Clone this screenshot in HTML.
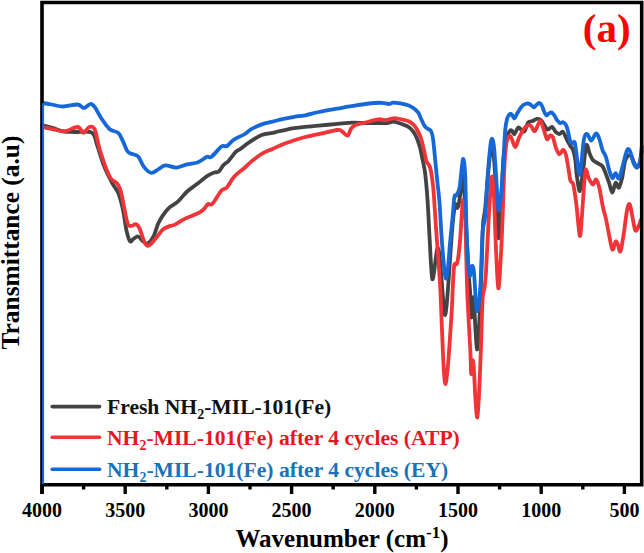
<!DOCTYPE html>
<html><head><meta charset="utf-8"><style>
html,body{margin:0;padding:0;background:#fff;}
svg{display:block;}
text{font-family:"Liberation Serif",serif;font-weight:bold;}
.tk{font-size:20px;fill:#000;}
</style></head><body>
<svg width="644" height="553" viewBox="0 0 644 553">
<rect x="0" y="0" width="644" height="553" fill="#fff"/>
<g fill="none" stroke-linejoin="round" stroke-linecap="round" stroke-width="3.8">
<path d="M42.5,125.3 C44.0,125.7 48.2,126.6 51.6,127.6 C55.0,128.6 59.2,130.7 63.1,131.4 C67.0,132.1 69.9,131.8 74.7,132.0 C79.5,132.2 88.3,130.6 92.0,132.8 C95.7,135.0 95.1,139.5 97.1,145.0 C99.1,150.5 101.5,159.6 104.1,166.0 C106.6,172.4 110.1,179.0 112.4,183.5 C114.8,188.0 116.5,188.6 118.2,192.9 C120.0,197.2 121.5,203.1 122.9,209.4 C124.3,215.7 125.3,225.3 126.5,230.6 C127.7,235.9 128.8,239.8 130.0,241.2 C131.2,242.6 132.1,239.6 133.5,238.8 C134.9,238.0 136.6,236.1 138.2,236.5 C139.8,236.9 141.3,240.0 142.9,241.2 C144.5,242.4 145.8,244.3 147.6,243.5 C149.4,242.7 151.7,239.8 153.5,236.5 C155.3,233.2 156.6,227.0 158.2,223.5 C159.8,220.0 161.1,217.9 162.9,215.3 C164.7,212.7 166.5,210.1 169.0,207.8 C171.5,205.5 175.1,204.1 178.1,201.4 C181.1,198.7 183.8,194.5 187.1,191.5 C190.4,188.5 194.7,185.9 198.0,183.3 C201.3,180.7 204.3,177.9 207.0,176.1 C209.7,174.3 212.2,173.2 214.2,172.5 C216.2,171.8 217.3,172.8 218.8,171.6 C220.3,170.4 221.7,167.1 223.3,165.3 C225.0,163.5 226.6,163.0 228.7,160.7 C230.8,158.4 234.1,153.6 236.0,151.7 C237.9,149.8 237.5,151.0 240.0,149.2 C242.5,147.4 247.3,143.4 250.9,141.1 C254.5,138.8 258.1,136.5 261.7,135.1 C265.3,133.7 269.9,133.5 272.6,132.9 C275.3,132.3 276.2,131.9 278.0,131.5 C279.8,131.1 280.8,130.9 283.5,130.3 C286.2,129.7 290.7,128.7 294.3,128.1 C297.9,127.5 301.1,127.2 305.2,126.8 C309.2,126.4 313.2,126.2 318.6,125.7 C324.0,125.2 331.7,124.4 337.3,123.9 C342.9,123.4 347.6,122.8 352.2,122.6 C356.8,122.4 360.8,122.9 365.2,123.0 C369.6,123.1 374.6,123.0 378.3,123.0 C382.0,123.0 385.1,123.2 387.6,123.0 C390.1,122.8 391.3,121.6 393.2,121.6 C395.1,121.6 396.6,122.3 398.8,123.0 C401.0,123.7 404.2,124.8 406.2,125.7 C408.1,126.6 409.0,127.0 410.5,128.5 C412.0,130.0 413.7,131.8 415.2,134.7 C416.7,137.5 418.2,141.3 419.5,145.6 C420.8,149.9 421.9,156.4 422.8,160.7 C423.7,165.0 424.3,167.2 424.9,171.6 C425.5,175.9 426.0,181.4 426.5,186.8 C427.0,192.2 427.3,196.5 427.8,204.1 C428.3,211.7 428.7,221.3 429.3,232.6 C429.9,243.9 430.9,263.9 431.5,271.7 C432.1,279.5 432.2,279.3 432.6,279.3 C433.0,279.3 433.4,276.6 434.1,271.7 C434.8,266.8 436.2,253.2 437.0,250.0 C437.8,246.8 438.4,247.8 439.1,252.2 C439.8,256.6 440.6,267.4 441.3,276.1 C442.0,284.8 442.9,297.8 443.5,304.3 C444.1,310.8 444.5,315.2 445.0,315.2 C445.5,315.2 446.1,310.8 446.7,304.3 C447.3,297.8 448.2,286.2 448.9,276.1 C449.6,266.0 450.4,253.3 451.1,243.5 C451.8,233.7 452.6,223.9 453.3,217.4 C454.0,210.9 454.7,205.9 455.4,204.3 C456.1,202.7 456.9,208.2 457.5,208.0 C458.1,207.8 458.4,206.3 459.0,203.0 C459.6,199.7 460.4,192.7 461.0,188.0 C461.6,183.3 462.1,173.8 462.7,175.0 C463.3,176.2 463.9,185.8 464.5,195.0 C465.1,204.2 465.6,217.5 466.3,230.0 C467.0,242.5 467.8,258.3 468.5,270.0 C469.2,281.7 470.2,292.1 470.7,300.0 C471.2,307.9 471.0,318.0 471.5,317.6 C472.0,317.2 472.8,295.3 473.5,297.4 C474.2,299.5 474.9,321.3 475.5,330.0 C476.1,338.7 476.5,348.6 477.0,349.4 C477.5,350.2 478.0,341.7 478.5,335.0 C479.0,328.3 479.4,319.8 479.9,309.0 C480.4,298.2 481.0,284.0 481.5,270.0 C482.0,256.0 482.4,235.0 483.0,225.0 C483.6,215.0 484.2,217.8 485.0,210.0 C485.8,202.2 486.9,188.0 487.8,178.0 C488.7,168.0 489.7,155.2 490.5,150.0 C491.3,144.8 491.8,144.5 492.5,147.0 C493.2,149.5 493.8,156.2 494.5,165.0 C495.2,173.8 495.8,187.8 496.5,200.0 C497.2,212.2 497.8,235.5 498.5,238.0 C499.2,240.5 499.7,228.0 500.5,215.0 C501.3,202.0 502.5,171.7 503.3,160.0 C504.1,148.3 504.8,149.1 505.5,145.0 C506.2,140.9 506.8,137.8 507.5,135.5 C508.2,133.2 509.1,131.8 509.8,131.0 C510.5,130.2 511.0,130.0 511.8,130.5 C512.6,131.0 513.5,134.5 514.5,134.0 C515.5,133.5 516.9,128.3 518.1,127.6 C519.3,126.9 520.4,129.4 521.5,130.0 C522.6,130.6 523.5,132.4 524.6,131.2 C525.7,129.9 526.9,124.2 528.2,122.5 C529.5,120.8 531.2,121.6 532.6,121.0 C534.0,120.4 535.5,119.0 536.9,118.9 C538.3,118.8 539.9,119.1 541.2,120.3 C542.5,121.5 543.8,124.5 544.9,126.1 C546.0,127.7 546.6,129.6 547.8,129.7 C549.0,129.8 550.8,126.4 552.1,126.8 C553.4,127.2 554.5,130.7 555.7,131.9 C556.9,133.1 558.1,134.1 559.3,134.1 C560.5,134.1 561.7,131.1 562.9,131.9 C564.1,132.7 565.4,136.8 566.6,139.1 C567.8,141.4 569.1,143.9 570.2,145.7 C571.3,147.5 572.2,147.6 573.1,150.0 C574.0,152.4 574.7,155.9 575.3,160.1 C575.9,164.3 576.0,169.8 576.7,175.0 C577.5,180.2 578.8,191.6 579.8,191.0 C580.8,190.4 581.9,179.0 583.0,171.4 C584.1,163.8 585.2,148.4 586.3,145.4 C587.4,142.4 588.5,151.1 589.6,153.5 C590.7,155.9 591.4,158.4 592.8,160.0 C594.1,161.6 596.1,162.2 597.7,163.3 C599.3,164.4 601.2,164.7 602.6,166.5 C604.0,168.3 604.8,171.3 605.9,174.0 C607.0,176.7 608.0,179.7 609.1,182.8 C610.2,185.9 611.3,192.6 612.4,192.6 C613.5,192.6 614.5,183.6 615.6,182.8 C616.7,182.0 617.8,188.5 618.9,187.7 C620.0,186.9 621.0,182.6 622.1,178.0 C623.2,173.4 624.0,163.8 625.4,160.0 C626.8,156.2 628.9,154.8 630.3,155.1 C631.7,155.4 632.5,159.6 633.6,161.7 C634.7,163.8 635.7,167.5 636.8,167.5 C637.9,167.5 639.2,164.3 640.0,161.7 C640.8,159.1 641.4,153.5 641.7,151.9" stroke="#434343"/>
<path d="M42.5,127.0 C44.5,127.4 50.8,128.9 54.5,129.6 C58.2,130.3 60.7,131.8 64.6,131.4 C68.4,131.0 74.5,126.8 77.6,127.0 C80.7,127.2 81.5,132.8 83.4,132.8 C85.3,132.8 87.3,127.6 89.2,127.0 C91.1,126.4 93.0,125.9 94.7,129.4 C96.4,132.9 97.4,141.5 99.4,148.2 C101.4,154.9 104.5,164.3 106.5,169.4 C108.5,174.5 109.4,176.5 111.2,178.8 C113.0,181.2 115.5,181.5 117.1,183.5 C118.7,185.5 119.4,186.7 120.6,190.6 C121.8,194.5 122.9,201.6 124.1,207.1 C125.3,212.6 126.4,220.4 127.6,223.5 C128.8,226.6 129.8,225.8 131.2,225.9 C132.6,226.0 134.5,223.8 135.9,224.2 C137.3,224.6 138.0,225.4 139.4,228.2 C140.8,231.0 142.7,238.2 144.1,241.2 C145.5,244.1 146.2,245.7 147.6,245.9 C149.0,246.1 150.6,244.2 152.4,242.4 C154.2,240.6 156.4,237.5 158.2,235.3 C159.9,233.1 160.9,231.0 162.9,229.4 C164.9,227.8 168.1,226.7 170.0,225.9 C171.9,225.2 172.2,226.0 174.5,224.9 C176.8,223.8 179.6,221.4 183.5,219.5 C187.4,217.6 194.7,214.8 198.0,213.2 C201.3,211.5 201.8,211.1 203.4,209.6 C205.1,208.1 206.4,205.1 207.9,204.1 C209.4,203.1 210.1,206.1 212.4,203.8 C214.7,201.6 219.1,193.3 221.5,190.6 C223.9,187.9 224.8,189.8 226.9,187.5 C229.0,185.2 231.1,180.0 234.1,176.7 C237.1,173.4 242.2,170.0 245.0,167.5 C247.8,165.0 248.1,164.2 250.9,161.9 C253.7,159.6 258.1,156.0 261.7,153.8 C265.3,151.6 269.0,150.5 272.6,148.9 C276.2,147.3 279.9,145.4 283.5,144.0 C287.1,142.6 290.7,141.5 294.3,140.3 C297.9,139.1 301.1,138.0 305.2,137.0 C309.2,136.0 313.2,135.3 318.6,134.1 C324.0,132.9 333.4,130.5 337.3,130.0 C341.2,129.5 340.2,130.4 341.9,131.3 C343.6,132.2 345.9,136.1 347.5,135.6 C349.1,135.1 349.8,130.3 351.2,128.5 C352.6,126.7 353.6,125.8 355.9,124.8 C358.2,123.8 362.1,123.4 365.2,122.6 C368.3,121.8 372.0,120.8 374.5,120.2 C377.0,119.6 378.2,119.2 380.1,119.2 C382.0,119.2 383.5,120.4 385.7,120.2 C387.9,120.0 390.7,118.5 393.2,118.3 C395.7,118.1 398.1,118.7 400.6,119.2 C403.1,119.7 405.9,120.2 408.1,121.1 C410.3,122.0 412.1,123.2 413.7,124.8 C415.3,126.4 416.3,128.2 417.5,130.5 C418.7,132.8 420.0,135.0 421.1,138.5 C422.2,142.0 423.4,147.7 424.3,151.5 C425.2,155.3 425.6,158.8 426.5,161.3 C427.4,163.8 428.9,164.0 429.8,166.7 C430.7,169.4 431.4,173.2 432.0,177.6 C432.6,181.9 433.1,184.7 433.7,192.8 C434.3,200.9 435.2,215.8 435.9,226.1 C436.6,236.3 437.3,244.2 438.0,254.3 C438.7,264.4 439.5,274.4 440.2,287.0 C440.9,299.6 441.4,316.2 442.0,330.0 C442.6,343.8 443.2,361.0 443.8,370.0 C444.4,379.0 444.9,384.2 445.5,384.2 C446.1,384.2 446.8,376.5 447.5,370.0 C448.2,363.5 448.8,355.0 449.5,345.0 C450.2,335.0 451.2,319.7 451.8,310.0 C452.4,300.3 452.4,294.5 452.8,287.0 C453.2,279.5 453.6,269.2 454.3,265.2 C455.0,261.2 456.3,266.6 457.2,263.0 C458.1,259.4 459.0,252.2 459.8,243.5 C460.6,234.8 461.5,218.2 462.0,210.9 C462.5,203.7 462.5,200.0 463.0,200.0 C463.5,200.0 464.7,201.8 465.2,210.9 C465.7,220.0 465.8,239.8 466.2,254.3 C466.6,268.8 466.8,281.9 467.5,297.8 C468.2,313.8 469.7,337.3 470.3,350.0 C470.9,362.7 470.9,372.2 471.2,374.0 C471.5,375.8 472.0,362.3 472.4,361.0 C472.8,359.7 473.2,359.5 473.7,366.0 C474.2,372.5 474.9,391.4 475.5,400.0 C476.1,408.6 476.7,418.2 477.3,417.4 C477.9,416.6 478.4,405.9 479.0,395.0 C479.6,384.1 480.3,364.8 480.8,352.3 C481.3,339.8 481.5,329.4 481.8,320.0 C482.1,310.6 482.4,301.3 482.8,296.0 C483.2,290.7 484.0,292.0 484.5,288.0 C485.0,284.0 485.5,280.0 486.0,272.0 C486.5,264.0 487.0,250.9 487.6,240.0 C488.2,229.1 488.7,217.1 489.4,206.7 C490.1,196.2 491.0,180.0 491.7,177.3 C492.4,174.6 493.0,178.4 493.7,190.4 C494.4,202.4 495.2,232.9 496.0,249.2 C496.8,265.5 497.5,287.3 498.3,288.4 C499.1,289.5 500.2,267.1 500.9,255.7 C501.6,244.3 501.9,235.1 502.5,220.0 C503.1,204.9 503.8,177.9 504.5,165.0 C505.2,152.1 505.7,147.6 506.5,142.8 C507.3,138.0 508.5,136.9 509.4,136.2 C510.2,135.5 510.6,136.6 511.6,138.4 C512.6,140.2 514.0,147.1 515.2,147.1 C516.4,147.1 517.5,141.3 518.8,138.4 C520.1,135.5 521.8,131.9 523.2,129.7 C524.7,127.5 526.2,126.0 527.5,125.4 C528.8,124.8 529.9,125.1 531.1,126.1 C532.3,127.1 533.5,131.6 534.7,131.2 C535.9,130.8 537.4,125.6 538.4,123.9 C539.4,122.2 539.7,120.3 540.5,121.0 C541.3,121.7 542.3,125.3 543.4,128.3 C544.5,131.3 545.9,137.9 547.0,139.1 C548.1,140.3 548.9,135.8 549.9,135.5 C550.9,135.2 551.8,135.1 552.8,137.0 C553.8,138.9 554.6,144.2 555.7,147.1 C556.8,150.0 558.1,153.8 559.3,154.3 C560.5,154.8 561.9,150.0 563.0,150.0 C564.1,150.0 564.8,150.9 565.8,154.3 C566.8,157.7 567.9,165.9 568.7,170.3 C569.5,174.8 569.7,178.6 570.5,181.0 C571.3,183.4 572.3,180.4 573.3,184.5 C574.3,188.6 575.4,197.0 576.5,205.6 C577.6,214.2 578.9,234.5 579.8,235.9 C580.7,237.3 581.2,224.6 582.1,213.8 C583.0,203.1 584.2,177.4 585.3,171.4 C586.4,165.4 587.4,175.8 588.6,178.0 C589.9,180.2 591.5,184.2 592.8,184.5 C594.0,184.8 595.0,179.1 596.1,179.6 C597.2,180.1 598.2,183.4 599.3,187.7 C600.4,192.0 601.5,200.4 602.6,205.6 C603.7,210.8 604.8,213.8 605.9,218.7 C607.0,223.6 608.0,229.8 609.1,235.0 C610.2,240.2 611.3,248.5 612.4,249.6 C613.5,250.7 614.7,242.3 615.6,241.5 C616.5,240.7 617.1,243.1 617.9,244.7 C618.7,246.3 619.5,253.1 620.5,251.2 C621.5,249.3 622.7,240.1 623.8,233.3 C624.9,226.5 626.0,215.4 627.0,210.5 C628.0,205.6 628.8,203.4 629.6,204.0 C630.4,204.6 631.0,209.5 631.9,213.8 C632.8,218.2 634.1,227.9 635.2,230.1 C636.3,232.3 637.5,228.4 638.4,226.8 C639.3,225.2 640.3,221.4 640.7,220.3" stroke="#f03437"/>
<path d="M42.5,103.0 C44.0,103.2 48.2,103.9 51.6,104.5 C55.0,105.1 58.8,106.5 63.1,106.5 C67.4,106.5 74.1,104.2 77.6,104.5 C81.1,104.8 81.8,108.1 84.0,108.0 C86.2,107.9 88.8,104.0 90.6,103.9 C92.4,103.8 93.3,105.1 95.0,107.4 C96.7,109.7 98.4,113.9 100.8,117.5 C103.2,121.1 106.5,126.4 109.4,129.0 C112.3,131.6 116.0,130.9 118.2,132.9 C120.5,134.9 121.3,138.1 122.9,141.2 C124.5,144.3 126.0,149.3 127.6,151.5 C129.2,153.7 130.6,153.3 132.4,154.1 C134.2,154.9 136.2,154.3 138.2,156.5 C140.1,158.7 141.9,164.4 144.1,167.1 C146.3,169.8 148.8,172.5 151.2,172.9 C153.5,173.3 155.8,170.7 158.2,169.4 C160.6,168.1 162.4,165.6 165.4,165.3 C168.4,165.0 172.7,167.8 176.3,167.6 C179.9,167.4 183.5,165.3 187.1,164.4 C190.7,163.5 194.7,163.5 198.0,162.2 C201.3,160.9 204.8,157.7 207.0,156.8 C209.2,155.9 209.1,158.5 211.5,156.8 C213.9,155.1 218.9,148.3 221.5,146.5 C224.1,144.7 224.8,147.2 226.9,146.0 C229.0,144.8 231.1,141.5 234.1,139.5 C237.1,137.5 242.2,135.7 245.0,134.0 C247.8,132.3 248.1,130.9 250.9,129.3 C253.7,127.7 258.1,125.7 261.7,124.4 C265.3,123.1 269.0,122.5 272.6,121.6 C276.2,120.7 279.9,119.7 283.5,118.9 C287.1,118.1 290.7,117.4 294.3,116.8 C297.9,116.2 301.1,116.1 305.2,115.3 C309.2,114.5 313.2,113.1 318.6,112.0 C324.0,110.9 331.1,109.7 337.3,108.6 C343.5,107.5 349.7,106.3 355.9,105.4 C362.1,104.5 370.1,103.4 374.5,103.0 C378.9,102.6 379.5,102.7 382.0,102.9 C384.5,103.1 387.5,104.0 389.4,104.0 C391.3,104.0 391.3,102.7 393.2,102.6 C395.1,102.5 398.1,103.0 400.6,103.4 C403.1,103.9 405.9,104.5 408.1,105.3 C410.3,106.1 412.0,107.0 413.7,108.2 C415.4,109.4 417.2,111.2 418.3,112.7 C419.4,114.2 419.5,115.4 420.5,117.5 C421.5,119.6 423.1,123.5 424.3,125.4 C425.5,127.3 426.5,127.8 427.6,128.7 C428.7,129.6 430.0,129.3 430.9,130.9 C431.8,132.5 432.3,133.6 433.0,138.5 C433.7,143.4 434.5,152.9 435.2,160.2 C435.9,167.4 436.7,174.8 437.4,182.0 C438.1,189.2 439.0,195.3 439.6,203.7 C440.2,212.1 440.7,223.1 441.3,232.6 C441.9,242.1 442.8,253.3 443.5,260.9 C444.2,268.5 445.0,276.9 445.7,278.3 C446.4,279.8 447.1,275.4 447.8,269.6 C448.5,263.8 449.2,252.1 450.0,243.5 C450.8,234.9 451.8,225.8 452.5,218.0 C453.2,210.2 453.8,200.5 454.4,196.8 C455.0,193.1 455.4,197.1 456.3,195.6 C457.2,194.1 458.6,192.3 459.5,188.0 C460.4,183.7 460.9,174.8 461.5,170.0 C462.1,165.2 462.7,158.1 463.3,158.9 C463.9,159.7 464.7,164.5 465.2,175.0 C465.7,185.5 465.9,208.5 466.3,221.7 C466.7,234.9 467.1,245.2 467.6,254.3 C468.2,263.4 468.9,274.1 469.6,276.1 C470.3,278.1 471.0,267.0 471.7,266.3 C472.4,265.6 473.2,265.4 473.9,271.7 C474.6,278.0 475.5,297.9 476.1,304.3 C476.8,310.7 477.1,312.7 477.8,309.8 C478.5,306.9 479.6,299.9 480.4,287.0 C481.2,274.1 481.8,244.3 482.6,232.6 C483.4,220.8 484.3,226.3 485.2,216.5 C486.1,206.7 486.8,186.5 487.8,174.0 C488.8,161.5 490.0,146.2 491.0,141.3 C492.0,136.4 492.9,139.2 493.7,144.6 C494.5,150.0 495.2,163.1 496.0,174.0 C496.8,184.9 497.7,207.3 498.6,210.0 C499.5,212.7 500.7,198.7 501.5,190.4 C502.3,182.1 502.9,169.9 503.5,160.0 C504.1,150.1 504.5,138.2 505.1,131.2 C505.7,124.2 506.4,121.1 507.2,118.2 C508.0,115.3 509.2,114.3 510.1,113.8 C511.0,113.3 511.6,114.6 512.3,115.3 C513.0,116.0 513.6,118.6 514.5,118.2 C515.4,117.8 516.2,115.0 517.4,113.1 C518.6,111.2 520.3,108.2 521.7,106.6 C523.1,105.0 524.7,104.1 526.0,103.7 C527.3,103.3 528.4,103.4 529.7,104.0 C531.0,104.6 532.9,107.1 534.0,107.3 C535.1,107.5 535.4,105.8 536.2,105.1 C537.1,104.4 538.1,102.9 539.1,103.0 C540.1,103.1 541.2,104.5 542.0,105.9 C542.8,107.3 543.4,110.0 544.1,111.6 C544.8,113.2 545.6,114.9 546.3,115.3 C547.0,115.7 547.6,114.3 548.5,113.8 C549.4,113.3 550.4,112.2 551.4,112.4 C552.4,112.7 553.3,114.0 554.3,115.3 C555.3,116.6 556.2,119.0 557.2,120.3 C558.2,121.6 559.1,122.9 560.1,123.2 C561.1,123.5 562.0,122.0 563.0,122.2 C564.0,122.5 565.0,123.2 565.8,124.7 C566.6,126.2 567.3,128.4 568.0,131.2 C568.7,134.0 569.5,139.2 570.2,141.3 C570.9,143.4 571.7,143.4 572.4,143.5 C573.1,143.6 573.9,140.9 574.5,142.0 C575.1,143.1 575.4,145.8 576.0,150.0 C576.6,154.2 577.5,163.3 578.1,167.4 C578.7,171.5 579.2,175.4 579.8,174.7 C580.3,174.0 580.7,169.3 581.4,163.3 C582.1,157.3 583.0,143.8 584.0,138.9 C585.0,134.0 586.1,133.7 587.3,134.0 C588.5,134.3 589.7,140.6 591.2,140.5 C592.7,140.4 594.8,133.6 596.1,133.3 C597.5,133.0 598.2,136.1 599.3,138.9 C600.4,141.7 601.5,147.3 602.6,150.3 C603.7,153.3 604.8,153.6 605.9,156.8 C607.0,160.1 608.0,166.3 609.1,169.8 C610.2,173.3 611.3,177.4 612.4,178.0 C613.5,178.6 614.5,173.0 615.6,173.1 C616.7,173.2 617.8,179.4 618.9,178.6 C620.0,177.8 620.8,172.9 622.1,168.2 C623.5,163.5 625.6,153.0 627.0,150.3 C628.4,147.6 629.2,149.7 630.3,151.9 C631.4,154.1 632.5,160.7 633.6,163.3 C634.7,165.9 635.7,167.8 636.8,167.5 C637.9,167.2 639.2,165.1 640.0,161.7 C640.8,158.3 641.4,149.4 641.7,147.0" stroke="#1668d8"/>
</g>
<path d="M42,494 L42,2.5 L641.7,2.5 L641.7,484.7 L42,484.7" fill="none" stroke="#000" stroke-width="3.6" stroke-linejoin="miter"/>
<line x1="43.1" y1="103" x2="43.1" y2="485" stroke="#1668d8" stroke-width="2"/>
<line x1="42.0" y1="484" x2="42.0" y2="494" stroke="#000" stroke-width="3.4"/><text x="42.0" y="517" text-anchor="middle" class="tk">4000</text><line x1="125.2" y1="484" x2="125.2" y2="494" stroke="#000" stroke-width="3.4"/><text x="125.2" y="517" text-anchor="middle" class="tk">3500</text><line x1="208.4" y1="484" x2="208.4" y2="494" stroke="#000" stroke-width="3.4"/><text x="208.4" y="517" text-anchor="middle" class="tk">3000</text><line x1="291.6" y1="484" x2="291.6" y2="494" stroke="#000" stroke-width="3.4"/><text x="291.6" y="517" text-anchor="middle" class="tk">2500</text><line x1="374.8" y1="484" x2="374.8" y2="494" stroke="#000" stroke-width="3.4"/><text x="374.8" y="517" text-anchor="middle" class="tk">2000</text><line x1="458.0" y1="484" x2="458.0" y2="494" stroke="#000" stroke-width="3.4"/><text x="458.0" y="517" text-anchor="middle" class="tk">1500</text><line x1="541.2" y1="484" x2="541.2" y2="494" stroke="#000" stroke-width="3.4"/><text x="541.2" y="517" text-anchor="middle" class="tk">1000</text><line x1="624.4" y1="484" x2="624.4" y2="494" stroke="#000" stroke-width="3.4"/><text x="624.4" y="517" text-anchor="middle" class="tk">500</text><line x1="83.6" y1="484" x2="83.6" y2="489.5" stroke="#000" stroke-width="3.4"/><line x1="166.8" y1="484" x2="166.8" y2="489.5" stroke="#000" stroke-width="3.4"/><line x1="250.0" y1="484" x2="250.0" y2="489.5" stroke="#000" stroke-width="3.4"/><line x1="333.2" y1="484" x2="333.2" y2="489.5" stroke="#000" stroke-width="3.4"/><line x1="416.4" y1="484" x2="416.4" y2="489.5" stroke="#000" stroke-width="3.4"/><line x1="499.6" y1="484" x2="499.6" y2="489.5" stroke="#000" stroke-width="3.4"/><line x1="582.8" y1="484" x2="582.8" y2="489.5" stroke="#000" stroke-width="3.4"/>
<text x="630.6" y="42.4" text-anchor="end" style="font-size:41px;fill:#fe0000;">(a)</text>
<g stroke-width="3.6" stroke-linecap="round">
<line x1="52.2" y1="406.6" x2="99.6" y2="406.6" stroke="#434343"/>
<line x1="52.2" y1="437.2" x2="99.6" y2="437.2" stroke="#f03437"/>
<line x1="52.2" y1="469.2" x2="99.6" y2="469.2" stroke="#1668d8"/>
</g>
<text x="107" y="413.5" style="font-size:21.6px;fill:#111;">Fresh NH<tspan dy="5" style="font-size:14px">2</tspan><tspan dy="-5">-MIL-101(Fe)</tspan></text>
<text x="107" y="444.6" style="font-size:21.6px;fill:#e8161f;">NH<tspan dy="5" style="font-size:14px">2</tspan><tspan dy="-5">-MIL-101(Fe) after 4 cycles (ATP)</tspan></text>
<text x="107" y="477" style="font-size:21.6px;fill:#1a72b8;">NH<tspan dy="5" style="font-size:14px">2</tspan><tspan dy="-5">-MIL-101(Fe) after 4 cycles (EY)</tspan></text>
<text x="235.5" y="546.5" style="font-size:25px;fill:#000;">Wavenumber (cm<tspan dy="-9" style="font-size:17px">-1</tspan><tspan dy="9">)</tspan></text>
<text transform="translate(19,349.5) rotate(-90)" style="font-size:25.4px;fill:#000;">Transmittance (a.u)</text>
</svg>
</body></html>
